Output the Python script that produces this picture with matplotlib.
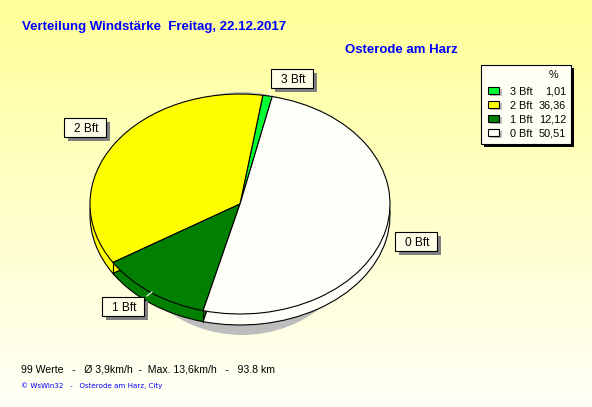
import numpy as np
import matplotlib
matplotlib.use('Agg')
import matplotlib.pyplot as plt
from matplotlib.patches import Ellipse, Rectangle

plt.rcParams['font.family'] = ['Liberation Sans', 'DejaVu Sans']

# Data
categories = ['3 Bft', '2 Bft', '1 Bft', '0 Bft']
percent = [1.01, 36.36, 12.12, 50.51]
colors = ['#00FF33', '#FFFF00', '#007F00', '#FFFFFA']
legend_values = ['1,01', '36,36', '12,12', '50,51']
title = 'Verteilung Windstärke  Freitag, 22.12.2017'
place = 'Osterode am Harz'
footer = '99 Werte   -   Ø 3,9km/h  -  Max. 13,6km/h   -   93.8 km'
credit = '© WsWin32   -   Osterode am Harz, City'

W, H = 592, 407
BLUE = '#0000FF'
GREY = '#BDBDBD'

fig = plt.figure(figsize=(W / 100, H / 100), dpi=100)

# Background in pixel coordinates
ax = fig.add_axes([0, 0, 1, 1], zorder=0)
ax.set_xlim(0, W)
ax.set_ylim(H, 0)
ax.axis('off')
grad = np.ones((256, 1, 3))
grad[:, 0, 2] = np.linspace(0.60, 0.97, 256)
ax.imshow(grad, extent=[0, W, H, 0], aspect='auto', zorder=0)

# Shadow behind the pie
ax.add_patch(Ellipse((242, 213.5), 250, 243, color=GREY, lw=0, zorder=1))


# Pie axes, stretched so the circle becomes an ellipse
def pie_axes(left, top, right, bottom, z):
    a = fig.add_axes([left / W, 1 - bottom / H, (right - left) / W, (bottom - top) / H], zorder=z)
    a.pie(percent, colors=colors, startangle=77.6, counterclock=True, radius=1,
          wedgeprops={'edgecolor': 'black', 'linewidth': 0.8})
    a.set_aspect('auto')
    a.set_xlim(-1, 1)
    a.set_ylim(-1, 1)
    a.patch.set_alpha(0)
    return a


pie_axes(90, 105, 390, 325, 1)
pie_axes(90, 94, 390, 314, 2)

# Overlay for labels and legend
top = fig.add_axes([0, 0, 1, 1], zorder=3)
top.set_xlim(0, W)
top.set_ylim(H, 0)
top.axis('off')
top.patch.set_alpha(0)

# Side edges of the rim
top.plot([113, 113], [263, 274], color='black', lw=0.8)
top.plot([202.5, 202.5], [310, 322], color='black', lw=0.8)

# Leader ends that show on the pie
top.plot([147, 152], [296, 292], color='white', lw=0.8)
top.plot([269.5, 270.5], [89, 95], color='white', lw=0.8)

top.text(22, 27, title, color=BLUE, fontsize=9.5, fontweight='bold', va='center')
top.text(345, 50, place, color=BLUE, fontsize=9.5, fontweight='bold', va='center')
top.text(21, 369.5, footer, color='black', fontsize=7.6, va='center')
top.text(21, 386, credit, color=BLUE, fontsize=5.1, va='center', family=['DejaVu Sans'])

# Slice labels
label_x = [271, 64, 102, 395]
label_y = [69, 118, 297, 232]
for name, x, y in zip(categories, label_x, label_y):
    top.add_patch(Rectangle((x + 3.5, y + 3.5), 42, 19, color='#808080', lw=0))
    top.add_patch(Rectangle((x, y), 42, 19, facecolor='#FFFFE8', edgecolor='black', lw=0.8))
    top.text(x + 22.5, y + 11, name, fontsize=8.6, ha='center', va='center')

# Legend
top.add_patch(Rectangle((484, 68), 90, 79, color='black', lw=0))
top.add_patch(Rectangle((481, 65), 90, 79, facecolor='#FFFFF4', edgecolor='black', lw=0.8))
top.text(553, 75, '%', fontsize=7.8, ha='center', va='center')
row_y = [91, 105, 119, 133]
for name, col, val, y in zip(categories, colors, legend_values, row_y):
    top.add_patch(Rectangle((490, y - 2), 12, 7, color=GREY, lw=0))
    top.add_patch(Rectangle((488, y - 4), 11, 7, facecolor=col, edgecolor='black', lw=0.8))
    top.text(510, y + 1, name, fontsize=7.8, va='center')
    top.text(566, y + 1, val, fontsize=7.8, ha='right', va='center')

fig.savefig('out.png', dpi=100)
